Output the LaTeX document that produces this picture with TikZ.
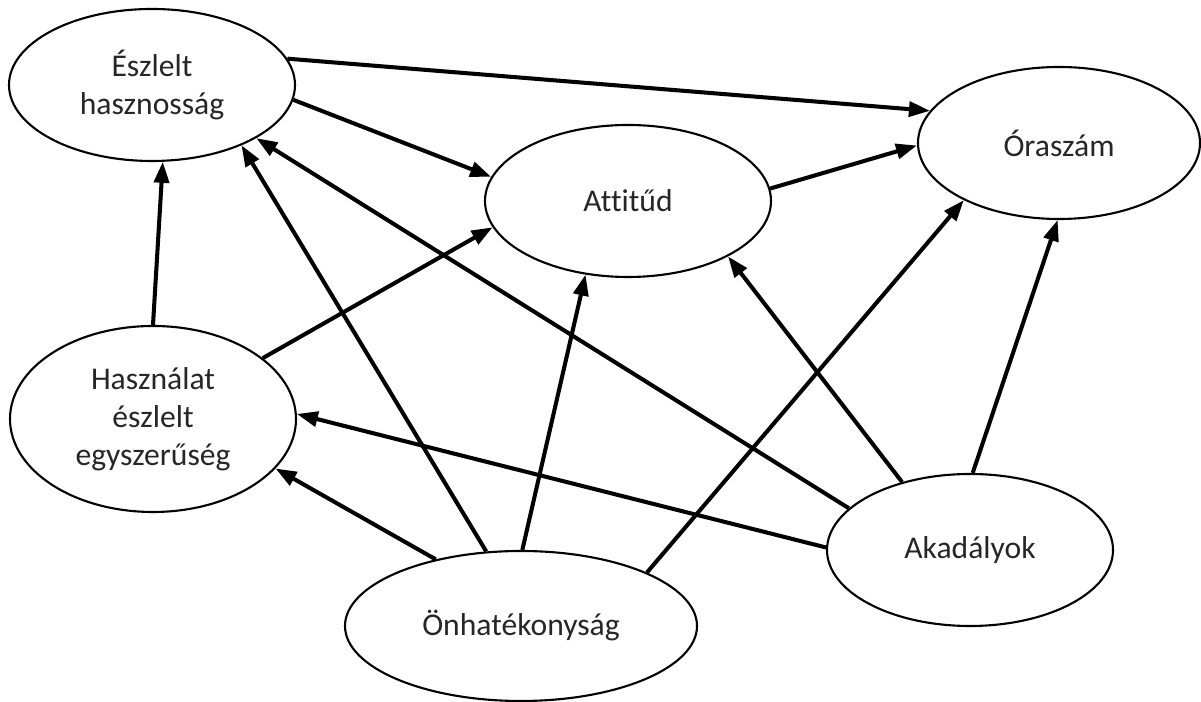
\documentclass[tikz,border=0pt]{standalone}
\usepackage{fontspec}
\setmainfont[Ligatures={NoCommon}]{Carlito}
\usepackage{tikz}
\usetikzlibrary{arrows.meta,shapes.geometric}

\begin{document}
\begin{tikzpicture}[
    construct/.style={draw, ellipse, line width=0.6pt, inner sep=0pt, minimum width=2.86cm, minimum height=1.52cm, align=center, text=black!85, font=\fontsize{9}{10.8}\selectfont},
    effect/.style={-{Triangle[length=2.1mm, width=1.5mm]}, line width=1.15pt}
]
    \useasboundingbox (0,0) rectangle (12.01,7.02);

    % Constructs
    \node[construct] (hasznossag) at (1.52,6.17) {Észlelt\\hasznosság};
    \node[construct] (attitud) at (6.28,5.01) {Attitűd};
    \node[construct, minimum width=2.82cm] (oraszam) at (10.59,5.59) {Óraszám};
    \node[construct, minimum height=1.86cm] (egyszeruseg) at (1.53,2.83) {Használat\\észlelt\\egyszerűség};
    \node[construct, minimum width=3.52cm, minimum height=1.5cm] (onhatekonysag) at (5.21,0.76) {Önhatékonyság};
    \node[construct] (akadalyok) at (9.70,1.52) {Akadályok};

    % Top row effects
    \draw[effect] (hasznossag.11) -- (oraszam.166);
    \draw[effect] (hasznossag.-6) -- (attitud.170);
    \draw[effect] (attitud.5) -- (oraszam.181);

    % Ease of use
    \draw[effect] (egyszeruseg.90) -- (hasznossag.-82);
    \draw[effect] (egyszeruseg.29) -- (attitud.191);

    % Self-efficacy
    \draw[effect] (onhatekonysag.142) -- (egyszeruseg.-22);
    \draw[effect] (onhatekonysag.115) -- (hasznossag.-34);
    \draw[effect] (onhatekonysag.89) -- (attitud.240);
    \draw[effect] (onhatekonysag.23) -- (oraszam.211);

    % Barriers
    \draw[effect] (akadalyok.179) -- (egyszeruseg.2);
    \draw[effect] (akadalyok.161) -- (hasznossag.-27);
    \draw[effect] (akadalyok.135) -- (attitud.-29);
    \draw[effect] (akadalyok.88) -- (oraszam.269);
\end{tikzpicture}
\end{document}
